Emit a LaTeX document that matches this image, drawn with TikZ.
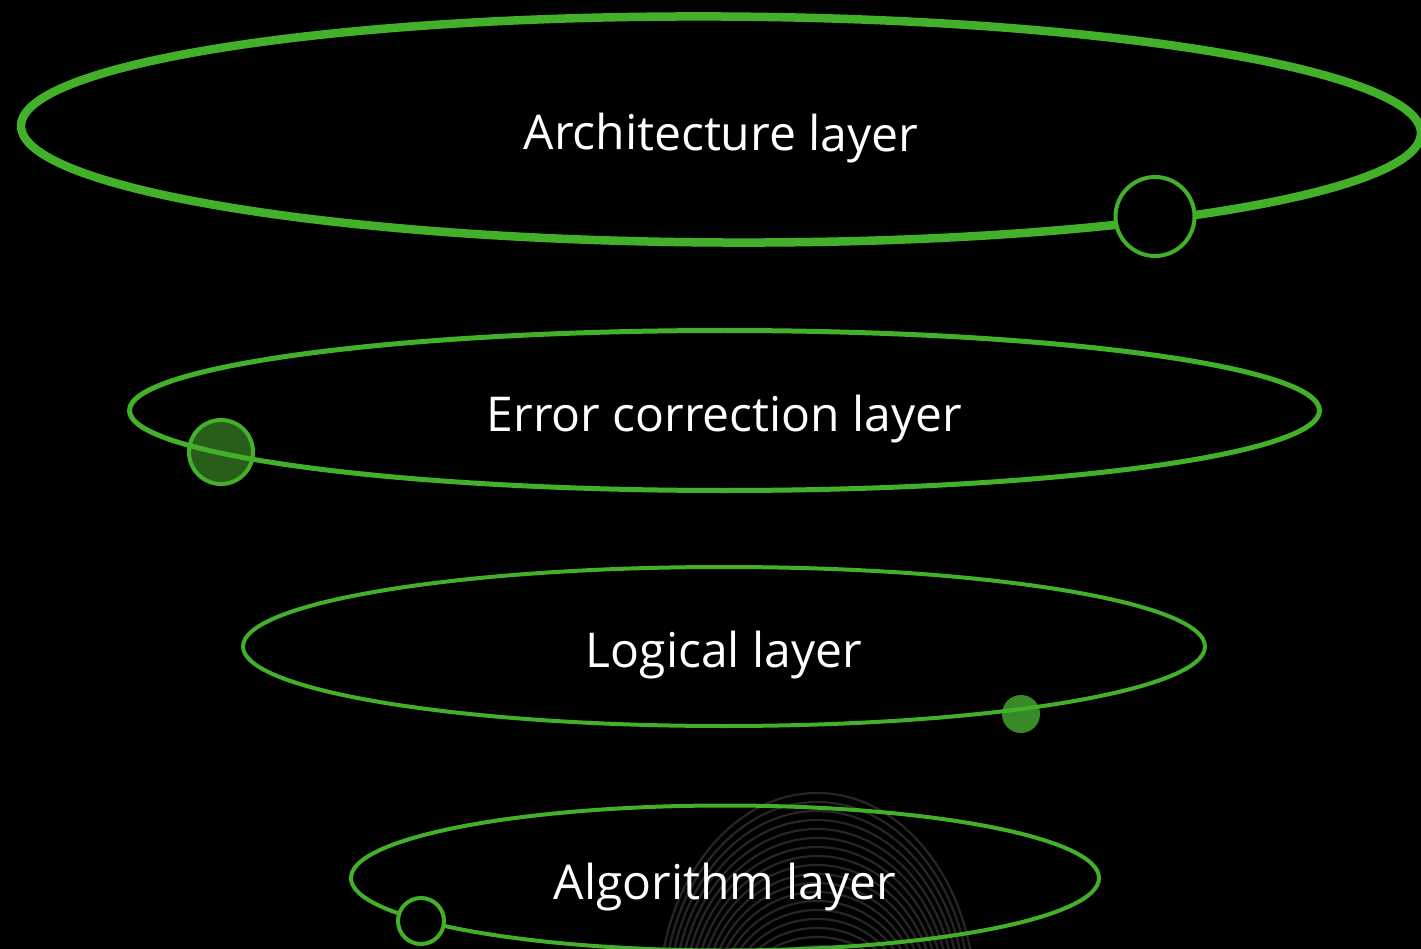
\documentclass[tikz,border=0pt]{standalone}
\usepackage{fontspec}
\setmainfont{Open Sans}
\usepackage{tikz}
\usetikzlibrary{shapes.geometric,backgrounds}
\definecolor{lgreen}{RGB}{67,176,42}
\definecolor{dgreen}{RGB}{41,94,26}
\definecolor{mgreen}{RGB}{56,138,38}
\definecolor{swirl}{RGB}{38,38,38}

\begin{document}
\begin{tikzpicture}[x=1pt,y=-1pt,
  layer/.style={ellipse,draw=lgreen,inner sep=0pt,text=white,text height=42pt,text depth=0pt,font=\fontsize{48}{52}\selectfont},
  ring/.style={circle,draw=lgreen,fill=black,line width=4pt,inner sep=0pt}]
  \useasboundingbox (0,0) rectangle (1421,949);
  \node[layer,line width=8.5pt,minimum width=1400pt,minimum height=226pt,rotate=-0.3] (arch) at (721,129.5) {Architecture layer};
  \node[layer,line width=5pt,minimum width=1190pt,minimum height=160pt] (err) at (724.5,410.5) {Error correction layer};
  \node[layer,line width=4pt,minimum width=962pt,minimum height=159pt] (logic) at (724,646.5) {Logical layer};
  \node[layer,line width=4pt,minimum width=748pt,minimum height=145pt] (algo) at (725,878) {Algorithm layer};
  \node[ring,minimum size=79pt] (archdot) at (1155,216.5) {};
  \node[ring,minimum size=46pt] (algodot) at (421,921) {};
  \begin{pgfonlayer}{background}
    \fill[black] (0,0) rectangle (1421,949);
    \begin{scope}
      \clip (0,0) rectangle (1421,949);
      \foreach \i in {0,...,18}
        \draw[swirl,line width=2.2pt] (817,1000) ellipse [x radius=158-5*\i, y radius=207-9*\i];
    \end{scope}
    \node[ring,fill=dgreen,minimum size=64pt] (errdot) at (221,452) {};
    \node[circle,fill=mgreen,inner sep=0pt,minimum size=38pt] (logicdot) at (1021,714) {};
  \end{pgfonlayer}
  %\node at (817,793) {};
\end{tikzpicture}
\end{document}
